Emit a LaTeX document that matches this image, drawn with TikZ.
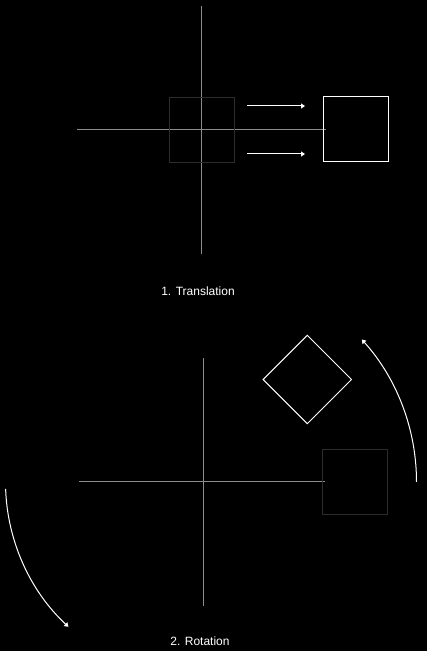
\documentclass[tikz,border=0pt]{standalone}
\usepackage{fontspec}
\setmainfont{Liberation Sans}
\usetikzlibrary{arrows.meta}
\definecolor{axisgray}{HTML}{8C8C8C}
\definecolor{faint}{HTML}{2C2C2C}
\begin{document}
\begin{tikzpicture}[x=1pt,y=1pt,
  axis/.style={draw=axisgray,line width=1pt},
  ghost/.style={draw=faint,line width=1pt,minimum size=65pt,inner sep=0pt,outer sep=0pt},
  solidsq/.style={draw=white,line width=1pt,minimum size=65pt,inner sep=0pt,outer sep=0pt},
  mover/.style={draw=white,line width=1pt,-{Triangle[length=4pt,width=5pt]}},
  caption/.style={text=white,font=\fontsize{12}{14}\selectfont,inner sep=0pt}]
\fill[black] (0,0) rectangle (427,651);
\useasboundingbox (0,0) rectangle (427,651);
% ---- 1. Translation ----
\coordinate (t-top) at (201.5,645);
\coordinate (t-bot) at (201.5,396.5);
\coordinate (t-left) at (77,521);
\coordinate (t-right) at (326,521);
\draw[axis] (t-top) -- (t-bot);
\draw[axis] (t-left) -- (t-right);
\node[ghost] (t-ghost) at (202,520.5) {};
\node[solidsq] (t-sq) at (355.75,521.5) {};
\coordinate (a1s) at (247,545);
\coordinate (a1e) at (305,545);
\coordinate (a2s) at (247,497);
\coordinate (a2e) at (305,497);
\draw[mover] (a1s) -- (a1e);
\draw[mover] (a2s) -- (a2e);
\node[caption] (cap1) at (198,360) {1. Translation};
% ---- 2. Rotation ----
\coordinate (o2) at (203.5,169);
\coordinate (r-top) at (203.5,293);
\coordinate (r-bot) at (203.5,44.5);
\coordinate (r-left) at (79,169);
\coordinate (r-right) at (325,169);
\draw[axis] (r-top) -- (r-bot);
\draw[axis] (r-left) -- (r-right);
\node[ghost] (r-ghost) at (355,169.2) {};
\node[solidsq,minimum size=62.5pt,rotate=45] (r-diamond) at (307.3,271.5) {};
\draw[mover] (o2) ++(0:213) arc[start angle=0,end angle=42,radius=213];
\draw[mover] (o2) ++(182:198) arc[start angle=182,end angle=227,radius=198];
\node[caption] (cap2) at (200,10) {2. Rotation};
\end{tikzpicture}
\end{document}
